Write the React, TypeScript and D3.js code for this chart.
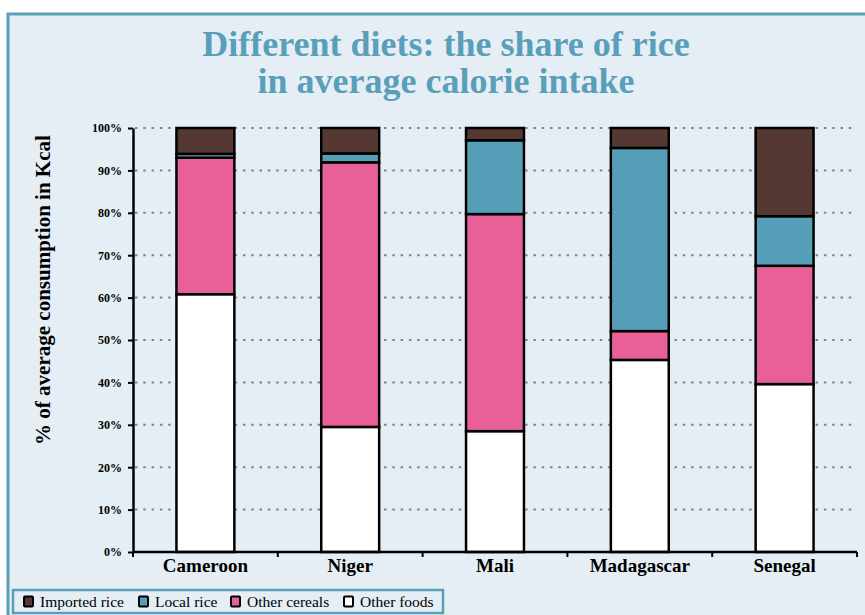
import { useRef, useEffect } from 'react'
import * as d3 from 'd3'

// chart data
const countries = ['Cameroon', 'Niger', 'Mali', 'Madagascar', 'Senegal']
const otherFoods = [60.8, 29.5, 28.5, 45.3, 39.6]
const otherCereals = [32.2, 62.4, 51.2, 6.8, 27.9]
const localRice = [0.9, 2.1, 17.4, 43.2, 11.7]
const importedRice = [6.1, 6.0, 2.9, 4.7, 20.8]
const seriesNames = ['Other foods', 'Other cereals', 'Local rice', 'Imported rice']
const seriesColors = ['#ffffff', '#e95f97', '#569fb9', '#553832']
const yTicks = [0, 10, 20, 30, 40, 50, 60, 70, 80, 90, 100]

const FONT = 'Liberation Serif'
const BG = '#e6eef5'
const BLUE = '#5a9fba'

function setFont(sel: any, size: number, weight = 'bold') {
  sel.attr('font-family', FONT).attr('font-size', size).attr('font-weight', weight)
    .style('font-family', FONT)
}

function App() {
  const ref = useRef<SVGSVGElement>(null)

  useEffect(() => {
    const svg = d3.select(ref.current)
    svg.selectAll('*').remove()

    const W = 865, H = 615
    const left = 133, right = 857, top = 128, bottom = 552

    // frame
    svg.append('rect').attr('width', W).attr('height', H).attr('fill', '#fff')
    svg.append('rect')
      .attr('x', 8).attr('y', 14).attr('width', 900).attr('height', 700)
      .attr('fill', BG).attr('stroke', BLUE).attr('stroke-width', 3)

    // title
    const title = svg.append('text')
      .attr('text-anchor', 'middle')
      .attr('fill', BLUE)
    setFont(title, 36)
    title.append('tspan').attr('x', 446).attr('y', 56).text('Different diets: the share of rice')
    title.append('tspan').attr('x', 446).attr('y', 93).text('in average calorie intake')

    const rows = countries.map((c, i) => ({
      country: c,
      'Other foods': otherFoods[i],
      'Other cereals': otherCereals[i],
      'Local rice': localRice[i],
      'Imported rice': importedRice[i],
    }))
    const stacked = d3.stack<any>().keys(seriesNames)(rows)

    const x = d3.scaleBand().domain(countries).range([left, right])
      .paddingInner(0.6).paddingOuter(0.3)
    const y = d3.scaleLinear().domain([0, 100]).range([bottom, top])

    // dotted grid
    svg.append('g').selectAll('line').data(yTicks.slice(1)).enter().append('line')
      .attr('x1', left + 2).attr('x2', right)
      .attr('y1', d => y(d)).attr('y2', d => y(d))
      .attr('stroke', '#8c807e').attr('stroke-width', 2)
      .attr('stroke-dasharray', '2.5,5.8')

    // bars
    svg.append('g').selectAll('g').data(stacked).enter().append('g')
      .attr('fill', (d, i) => seriesColors[i])
      .selectAll('rect').data(d => d).enter().append('rect')
      .attr('x', d => x(d.data.country) as number)
      .attr('width', x.bandwidth())
      .attr('y', d => y(d[1]))
      .attr('height', d => y(d[0]) - y(d[1]))
      .attr('stroke', '#000').attr('stroke-width', 2.5)

    // y axis
    const yAxis = svg.append('g')
      .attr('transform', `translate(${left},0)`)
      .call(d3.axisLeft(y).tickValues(yTicks).tickFormat(d => d + '%').tickSize(5).tickSizeOuter(0).tickPadding(6))
    yAxis.select('.domain').attr('stroke-width', 2.5)
    yAxis.selectAll('.tick line').attr('stroke-width', 2)
    setFont(yAxis, 12)
    yAxis.selectAll('text').attr('fill', '#000')

    // x axis: labels centred, ticks on the band boundaries
    const xAxis = svg.append('g')
      .attr('transform', `translate(0,${bottom})`)
      .call(d3.axisBottom(x).tickSize(0).tickSizeOuter(0).tickPadding(7))
    xAxis.select('.domain').attr('stroke-width', 2.5).attr('d', `M${left},0H${right}`)
    setFont(xAxis, 19)
    xAxis.selectAll('text').attr('fill', '#000')
    xAxis.selectAll('line.bound').data(d3.range(countries.length + 1)).enter().append('line')
      .attr('class', 'bound')
      .attr('x1', i => left + i * x.step()).attr('x2', i => left + i * x.step())
      .attr('y1', 0).attr('y2', 5)
      .attr('stroke', '#000').attr('stroke-width', 2)

    // y axis title
    const yTitle = svg.append('text')
      .attr('transform', 'translate(50,290) rotate(-90)')
      .attr('text-anchor', 'middle')
      .text('% of average consumption in Kcal')
    setFont(yTitle, 21)

    // legend
    svg.append('rect')
      .attr('x', 13).attr('y', 590).attr('width', 430).attr('height', 23)
      .attr('fill', BG).attr('stroke', BLUE).attr('stroke-width', 2.5)
    const legendOrder = [3, 2, 1, 0]
    const legendX = [23, 138, 230, 343]
    const items = svg.append('g').selectAll('g').data(legendOrder).enter().append('g')
      .attr('transform', (d, i) => `translate(${legendX[i]},0)`)
    items.append('rect')
      .attr('x', 1).attr('y', 596.5).attr('width', 9).attr('height', 10).attr('rx', 1)
      .attr('fill', d => seriesColors[d]).attr('stroke', '#000').attr('stroke-width', 2)
    const legendText = items.append('text')
      .attr('x', 17).attr('y', 607)
      .text(d => seriesNames[d])
    setFont(legendText, 15.5, 'normal')
  }, [])

  return (
    <svg ref={ref} width={865} height={615}
      style={{ position: 'absolute', left: 0, top: 0, display: 'block' }} />
  )
}

export default App
